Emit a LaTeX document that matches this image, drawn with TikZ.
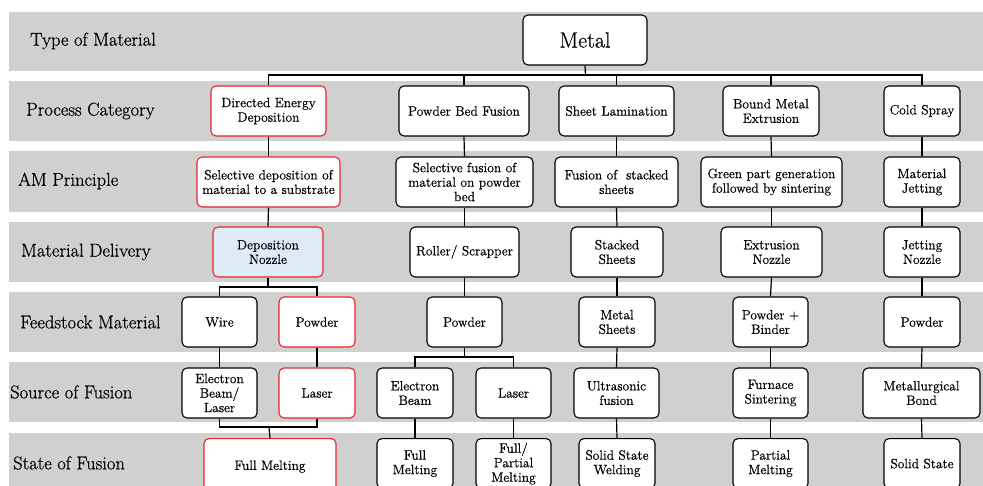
\documentclass[tikz,border=0pt]{standalone}
\usepackage{fontspec}
\setmainfont{Latin Modern Roman}[UprightFeatures={FakeBold=0.6}]
\usepackage{tikz}
\usetikzlibrary{positioning,calc}

\definecolor{bandgray}{RGB}{208,208,208}
\definecolor{boxred}{RGB}{232,38,42}
\definecolor{nozzleblue}{RGB}{222,235,247}

\begin{document}
\begin{tikzpicture}[
    x=1pt, y=-1pt,
    band/.style={fill=bandgray},
    rowlabel/.style={anchor=west, inner sep=0pt, font=\fontsize{18.5}{22}\selectfont},
    box/.style={rectangle, rounded corners=5pt, draw=black, fill=white, line width=1.1pt, minimum height=50pt, inner sep=1pt, align=center, font=\fontsize{13.5}{14.5}\selectfont},
    redbox/.style={box, draw=boxred},
    line/.style={-, line width=1.2pt}
]

\clip (0,0) rectangle (983,486);

% Zeilen (graue Baender)
\fill[band] (9,12) rectangle (983,71);
\fill[band] (9,81) rectangle (983,141);
\fill[band] (9,151) rectangle (983,212);
\fill[band] (9,222) rectangle (983,282);
\fill[band] (9,292) rectangle (983,352);
\fill[band] (9,362) rectangle (983,422);
\fill[band] (9,433) rectangle (983,490);

% Zeilenbeschriftungen
\node[rowlabel] (lab_type) at (30,41) {Type of Material};
\node[rowlabel] (lab_proc) at (26,111) {Process Category};
\node[rowlabel] (lab_prin) at (18,181) {AM Principle};
\node[rowlabel] (lab_deliv) at (21,252) {Material Delivery};
\node[rowlabel] (lab_feed) at (20,322) {Feedstock Material};
\node[rowlabel] (lab_src) at (10,392) {Source of Fusion};
\node[rowlabel] (lab_state) at (13,463) {State of Fusion};

% Material
\node[box, minimum width=124pt, font=\fontsize{22}{26}\selectfont] (metal) at (585,40) {Metal};

% Prozesskategorien
\node[redbox, minimum width=115pt] (ded) at (268.5,111) {Directed Energy\\Deposition};
\node[box, minimum width=130pt] (pbf) at (464,111) {Powder Bed Fusion};
\node[box, minimum width=115pt] (sl) at (616.5,111) {Sheet Lamination};
\node[box, minimum width=96pt] (bme) at (771,111) {Bound Metal\\Extrusion};
\node[box, minimum width=76pt] (cs) at (922,111) {Cold Spray};

% AM-Prinzip
\node[redbox, minimum width=143pt] (ded_prin) at (268.5,182) {Selective deposition of\\material to a substrate};
\node[box, minimum width=137pt] (pbf_prin) at (464.5,182) {Selective fusion of\\material on powder\\bed};
\node[box, minimum width=123pt] (sl_prin) at (616.5,182) {Fusion of\ \ stacked\\sheets};
\node[box, minimum width=141pt] (bme_prin) at (771.5,182) {Green part generation\\followed by sintering};
\node[box, minimum width=76pt] (cs_prin) at (922,182) {Material\\Jetting};

% Materialzufuhr
\node[redbox, fill=nozzleblue, minimum width=110pt] (ded_noz) at (268,252) {Deposition\\Nozzle};
\node[box, minimum width=109pt] (pbf_roll) at (464.5,252) {Roller/ Scrapper};
\node[box, minimum width=92pt] (sl_stack) at (617,252) {Stacked\\Sheets};
\node[box, minimum width=101pt] (bme_noz) at (771.5,252) {Extrusion\\Nozzle};
\node[box, minimum width=76pt] (cs_noz) at (922,252) {Jetting\\Nozzle};

% Ausgangsmaterial
\node[box, minimum width=75pt] (ded_wire) at (219.5,322) {Wire};
\node[redbox, minimum width=76pt] (ded_pow) at (317,322) {Powder};
\node[box, minimum width=75pt] (pbf_pow) at (464.5,322) {Powder};
\node[box, minimum width=76pt] (sl_sheet) at (617,322) {Metal\\Sheets};
\node[box, minimum width=75pt] (bme_pow) at (770.5,322) {Powder +\\Binder};
\node[box, minimum width=76pt] (cs_pow) at (922,322) {Powder};

% Energiequelle
\node[box, minimum width=75pt] (ded_ebl) at (219.5,393) {Electron\\Beam/\\Laser};
\node[redbox, minimum width=76pt] (ded_laser) at (317,393) {Laser};
\node[box, minimum width=76pt] (pbf_eb) at (415,393) {Electron\\Beam};
\node[box, minimum width=75pt] (pbf_laser) at (513.5,393) {Laser};
\node[box, minimum width=85pt] (sl_us) at (616.5,393) {Ultrasonic\\fusion};
\node[box, minimum width=75pt] (bme_fs) at (770.5,393) {Furnace\\Sintering};
\node[box, minimum width=117pt] (cs_mb) at (921.5,393) {Metallurgical\\Bond};

% Zustand der Verbindung (unten abgeschnitten)
\node[redbox, anchor=north, minimum width=132pt, minimum height=56pt] (ded_full) at (270,438) {Full Melting};
\node[box, anchor=north, minimum width=76pt] (pbf_full) at (415,438) {Full\\Melting};
\node[box, anchor=north, minimum width=75pt] (pbf_part) at (513.5,438) {Full/\\Partial\\Melting};
\node[box, anchor=north, minimum width=76pt] (sl_solid) at (617,438) {Solid State\\Welding};
\node[box, anchor=north, minimum width=75pt] (bme_part) at (770.5,438) {Partial\\Melting};
\node[box, anchor=north, minimum width=76pt] (cs_solid) at (922,438) {Solid State};

% Verzweigungspunkte
\coordinate (bus) at (585.5,75);
\coordinate (ded_split) at (268,287);
\coordinate (pbf_split) at (464.5,357);
\coordinate (ded_merge) at (269,427);

% Metal zu Prozesskategorien
\draw[line] (metal.south) -- (bus);
\draw[line] (bus) -| (ded.north);
\draw[line] (bus) -| (pbf.north);
\draw[line] (bus) -| (sl.north);
\draw[line] (bus) -| (bme.north);
\draw[line] (bus) -| (cs.north);

% Directed Energy Deposition
\draw[line] (ded.south) -- (ded_prin.north);
\draw[line] (ded_prin.south) -- (ded_noz.north);
\draw[line] (ded_noz.south) -- (ded_split);
\draw[line] (ded_split) -| (ded_wire.north);
\draw[line] (ded_split) -| (ded_pow.north);
\draw[line] (ded_wire.south) -- (ded_ebl.north);
\draw[line] (ded_pow.south) -- (ded_laser.north);
\draw[line] (ded_ebl.south) |- (ded_merge);
\draw[line] (ded_laser.south) |- (ded_merge);
\draw[line] (ded_merge) -- (ded_full.north);

% Powder Bed Fusion
\draw[line] (pbf.south) -- (pbf_prin.north);
\draw[line] (pbf_prin.south) -- (pbf_roll.north);
\draw[line] (pbf_roll.south) -- (pbf_pow.north);
\draw[line] (pbf_pow.south) -- (pbf_split);
\draw[line] (pbf_split) -| (pbf_eb.north);
\draw[line] (pbf_split) -| (pbf_laser.north);
\draw[line] (pbf_eb.south) -- (pbf_full.north);
\draw[line] (pbf_laser.south) -- (pbf_part.north);

% Sheet Lamination
\draw[line] (sl.south) -- (sl_prin.north);
\draw[line] (sl_prin.south) -- (sl_stack.north);
\draw[line] (sl_stack.south) -- (sl_sheet.north);
\draw[line] (sl_sheet.south) -- (sl_us.north);
\draw[line] (sl_us.south) -- (sl_solid.north);

% Bound Metal Extrusion
\draw[line] (bme.south) -- (bme_prin.north);
\draw[line] (bme_prin.south) -- (bme_noz.north);
\draw[line] (bme_noz.south) -- (bme_pow.north);
\draw[line] (bme_pow.south) -- (bme_fs.north);
\draw[line] (bme_fs.south) -- (bme_part.north);

% Cold Spray
\draw[line] (cs.south) -- (cs_prin.north);
\draw[line] (cs_prin.south) -- (cs_noz.north);
\draw[line] (cs_noz.south) -- (cs_pow.north);
\draw[line] (cs_pow.south) -- (cs_mb.north);
\draw[line] (cs_mb.south) -- (cs_solid.north);

\end{tikzpicture}
\end{document}
